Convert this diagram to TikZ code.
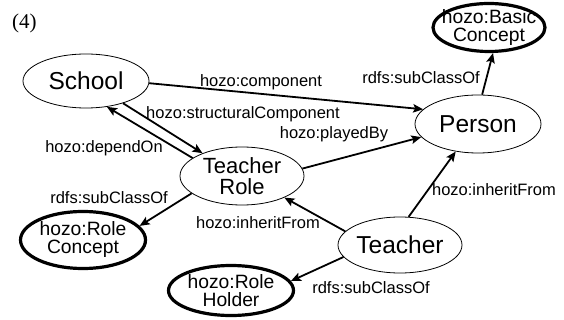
\documentclass[tikz,border=0pt]{standalone}
\usepackage{fontspec}
\setmainfont{Liberation Sans}
\newfontfamily\timesfont{Liberation Serif}
\usetikzlibrary{shapes.geometric,arrows.meta}
\begin{document}
\begin{tikzpicture}[x=1pt,y=-1pt,
  cls/.style={ellipse,draw,line width=0.8pt,inner sep=0pt},
  meta/.style={ellipse,draw,line width=3.2pt,inner sep=0pt},
  big/.style={font=\fontsize{24.5}{26}\selectfont},
  mid/.style={font=\fontsize{22}{21}\selectfont,align=center},
  small/.style={font=\fontsize{19.3}{18}\selectfont,align=center},
  rel/.style={line width=1.8pt,-{Stealth[length=10pt,width=8.5pt,inset=2pt]}},
  lbl/.style={anchor=base,font=\fontsize{16.5}{18}\selectfont,inner sep=0pt}]
\useasboundingbox (0,0) rectangle (564,320);

\node[anchor=base west,inner sep=0pt,font=\timesfont\fontsize{21}{24}\selectfont] (num) at (12,29) {(4)};

\node[cls,minimum width=126pt,minimum height=54pt,label={[big]center:School}] (school) at (86,81) {};
\node[cls,minimum width=126pt,minimum height=58pt,label={[big]center:Person}] (person) at (478,124) {};
\node[meta,minimum width=112pt,minimum height=48pt,label={[small]center:hozo:Basic\\Concept}] (basic) at (489,27.5) {};
\node[cls,minimum width=124pt,minimum height=58pt,label={[mid]center:Teacher\\Role}] (trole) at (242,176) {};
\node[meta,minimum width=125pt,minimum height=57pt,label={[small]center:hozo:Role\\Concept}] (rconcept) at (83,240) {};
\node[meta,minimum width=125pt,minimum height=50pt,label={[small]center:hozo:Role\\Holder}] (rholder) at (231,290.5) {};
\node[cls,minimum width=124pt,minimum height=56pt,label={[big]center:Teacher}] (teacher) at (400,245) {};

\draw[rel] (school.-2) -- (person.165);
\draw[rel] (school.-31) -- (trole.150);
\draw[rel] (trole.160) -- (school.-51);
\draw[rel] (trole.7) -- (person.193);
\draw[rel] (person.82) -- (basic.279);
\draw[rel] (trole.199) -- (rconcept.14);
\draw[rel] (teacher.166) -- (trole.333);
\draw[rel] (teacher.73) -- (person.231);
\draw[rel] (teacher.192) -- (rholder.9);

\node[lbl] (lcomp) at (261,87) {hozo:component};
\node[lbl] (lstruct) at (243,118.5) {hozo:structuralComponent};
\node[lbl] (lplay) at (334,139) {hozo:playedBy};
\node[lbl] (ldep) at (104,153) {hozo:dependOn};
\node[lbl] (lsub1) at (421,84) {rdfs:subClassOf};
\node[lbl] (lsub2) at (109,204) {rdfs:subClassOf};
\node[lbl] (linh1) at (258,229) {hozo:inheritFrom};
\node[lbl] (linh2) at (494,196) {hozo:inheritFrom};
\node[lbl] (lsub3) at (371,293) {rdfs:subClassOf};
\end{tikzpicture}
\end{document}
